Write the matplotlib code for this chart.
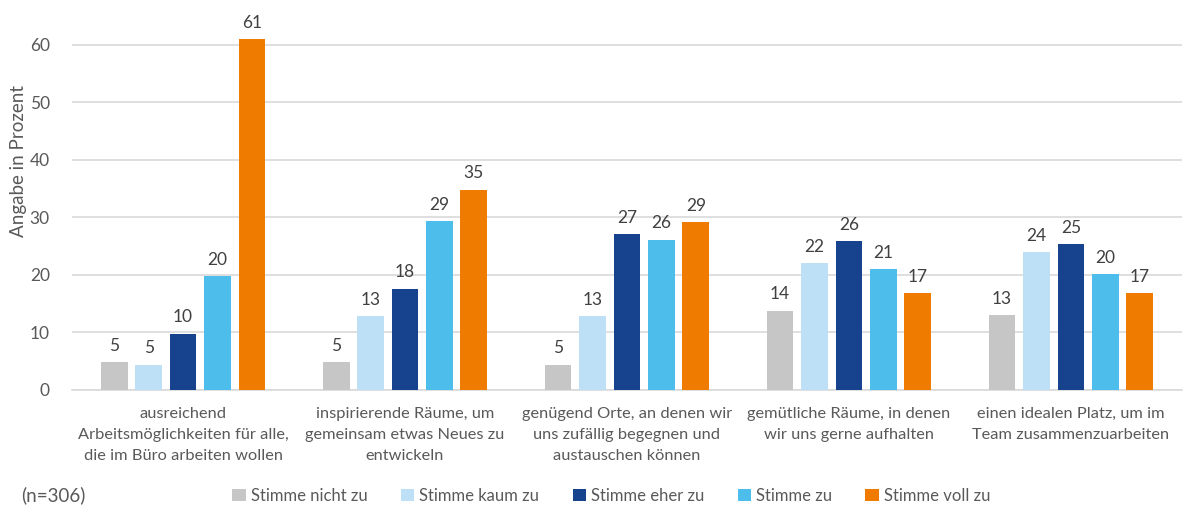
import matplotlib.pyplot as plt
import numpy as np

plt.rcParams['font.family'] = ['Lato', 'DejaVu Sans']

categories = [
    "ausreichend\nArbeitsmöglichkeiten für alle,\ndie im Büro arbeiten wollen",
    "inspirierende Räume, um\ngemeinsam etwas Neues zu\nentwickeln",
    "genügend Orte, an denen wir\nuns zufällig begegnen und\naustauschen können",
    "gemütliche Räume, in denen\nwir uns gerne aufhalten",
    "einen idealen Platz, um im\nTeam zusammenzuarbeiten",
]
series = ["Stimme nicht zu", "Stimme kaum zu", "Stimme eher zu", "Stimme zu", "Stimme voll zu"]
colors = ["#c6c6c6", "#bde0f7", "#17428e", "#4dbdec", "#ef7b00"]

# bar heights (one list per series)
nicht_zu = [4.8, 4.8, 4.4, 13.8, 13.0]
kaum_zu = [4.4, 12.8, 12.8, 22.0, 24.0]
eher_zu = [9.8, 17.6, 27.1, 25.9, 25.3]
zu = [19.8, 29.3, 26.1, 21.0, 20.1]
voll_zu = [60.9, 34.8, 29.2, 16.8, 16.8]

# printed labels (rounded in the source)
lbl_nicht_zu = [5, 5, 5, 14, 13]
lbl_kaum_zu = [5, 13, 13, 22, 24]
lbl_eher_zu = [10, 18, 27, 26, 25]
lbl_zu = [20, 29, 26, 21, 20]
lbl_voll_zu = [61, 35, 29, 17, 17]

values = [nicht_zu, kaum_zu, eher_zu, zu, voll_zu]
labels = [lbl_nicht_zu, lbl_kaum_zu, lbl_eher_zu, lbl_zu, lbl_voll_zu]

txt = "#595959"
fig = plt.figure(figsize=(11.87, 5.11), dpi=100)
ax = fig.add_axes([0.0607, 0.2368, 0.935, 0.7435])

x = np.arange(len(categories))
pitch = 0.155
width = 0.12
for i, (vals, lbls) in enumerate(zip(values, labels)):
    pos = x + (i - 2) * pitch
    bars = ax.bar(pos, vals, width, color=colors[i], label=series[i], zorder=3)
    for b, l in zip(bars, lbls):
        ax.annotate(str(l), (b.get_x() + b.get_width() / 2, b.get_height()),
                    xytext=(0, 6), textcoords="offset points",
                    ha="center", va="bottom", fontsize=12.5, color="#404040")

ax.set_xlim(-0.5, len(categories) - 0.5)
ax.set_ylim(0, 66)
ax.set_yticks(range(0, 61, 10))
ax.yaxis.grid(True, color="#d9d9d9", linewidth=1.2, zorder=0)
ax.set_axisbelow(True)
for s in ["top", "right", "left"]:
    ax.spines[s].set_visible(False)
ax.spines["bottom"].set_color("#d9d9d9")
ax.spines["bottom"].set_linewidth(1.2)
ax.tick_params(axis="both", length=0, colors=txt, labelsize=12.5)
ax.tick_params(axis="y", pad=16)
ax.set_xticks(x)
ax.set_xticklabels(categories, fontsize=11.8, color=txt, linespacing=1.65)
ax.tick_params(axis="x", pad=12)

fig.text(0.016, 0.685, "Angabe in Prozent", rotation=90, ha="center", va="center",
         fontsize=13.5, color=txt)
fig.text(0.018, 0.03, "(n=306)", ha="left", va="center", fontsize=13.5, color=txt)

leg = fig.legend(loc="center", bbox_to_anchor=(0.515, 0.03), ncol=5, frameon=False,
                 fontsize=12, handlelength=0.8, handleheight=0.8, handletextpad=0.3,
                 columnspacing=2.0)
for t in leg.get_texts():
    t.set_color(txt)

fig.savefig("out.png", dpi=100)
